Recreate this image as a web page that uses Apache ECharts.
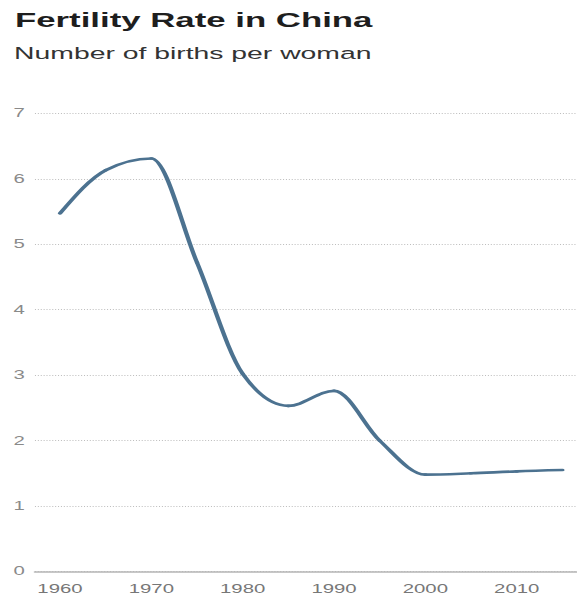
<!DOCTYPE html>
<html>
<head>
<meta charset="utf-8">
<script src="https://cdn.jsdelivr.net/npm/echarts@6.0.0/dist/echarts.min.js"></script>
<style>
  html, body { margin: 0; padding: 0; background: #fff; overflow: hidden; }
  #chart { width: 340px; height: 600px; transform: scaleX(1.697); transform-origin: 0 0; }
</style>
</head>
<body>
<div id="chart"></div>
<script>
// Data
const titleText = 'Fertility Rate in China';
const subtitleText = 'Number of births per woman';
const years = [1960, 1965, 1970, 1975, 1980, 1985, 1990, 1995, 2000, 2005, 2010, 2015];
const rates = [5.47, 6.13, 6.31, 4.72, 3.02, 2.53, 2.76, 2.00, 1.48, 1.50, 1.53, 1.55];
const xTickLabels = [1960, 1970, 1980, 1990, 2000, 2010];
const yTicks = [0, 1, 2, 3, 4, 5, 6, 7];

const seriesData = years.map((y, i) => [y, rates[i]]);

const chart = echarts.init(document.getElementById('chart'), null, { renderer: 'svg', width: 340, height: 600 });
const font = '"Liberation Sans", Arial, Helvetica, sans-serif';
const lineColor = '#4c7290';

// monotone cubic (Fritsch–Carlson style) tangents, computed on pixel coords from the axes
function tangents(pts) {
  const n = pts.length, m = new Array(n).fill(0), s = [];
  for (let i = 0; i < n - 1; i++) {
    const h = pts[i + 1][0] - pts[i][0];
    s.push(h ? (pts[i + 1][1] - pts[i][1]) / h : 0);
  }
  for (let i = 1; i < n - 1; i++) {
    const h0 = pts[i][0] - pts[i - 1][0], h1 = pts[i + 1][0] - pts[i][0];
    const s0 = s[i - 1], s1 = s[i];
    const p = (s0 * h1 + s1 * h0) / (h0 + h1);
    m[i] = (Math.sign(s0) + Math.sign(s1)) * Math.min(Math.abs(s0), Math.abs(s1), 0.5 * Math.abs(p)) || 0;
  }
  m[0] = (3 * s[0] - m[1]) / 2;
  m[n - 1] = (3 * s[n - 2] - m[n - 2]) / 2;
  return m;
}

function renderSegment(params, api) {
  const i = params.dataIndex;
  if (i >= seriesData.length - 1) return null;
  const pts = seriesData.map(d => api.coord(d));
  const m = tangents(pts);
  const [x0, y0] = pts[i], [x1, y1] = pts[i + 1];
  const dx = (x1 - x0) / 3;
  const d = 'M' + x0 + ' ' + y0 + ' C' + (x0 + dx) + ' ' + (y0 + dx * m[i]) + ' ' +
            (x1 - dx) + ' ' + (y1 - dx * m[i + 1]) + ' ' + x1 + ' ' + y1;
  return {
    type: 'path',
    shape: { pathData: d },
    style: { fill: 'none', stroke: lineColor, lineWidth: 2.6, lineCap: 'round', lineJoin: 'round' }
  };
}

chart.setOption({
  animation: false,
  backgroundColor: '#ffffff',
  graphic: [
    { type: 'text', x: 8.8, y: 20.3,
      style: { text: titleText, font: 'bold 20.5px ' + font, fill: '#1e1e1e', verticalAlign: 'middle' } },
    { type: 'text', x: 8.3, y: 53,
      style: { text: subtitleText, font: '16.7px ' + font, fill: '#333333', verticalAlign: 'middle' } }
  ],
  grid: { left: 20.6, right: 0, top: 113.3, bottom: 28.5, containLabel: false },
  xAxis: {
    type: 'value',
    min: 1957.26,
    max: 2016.6,
    axisLine: { show: true, lineStyle: { color: '#b5b5b5', width: 1.6 } },
    axisTick: { show: false },
    splitLine: { show: false },
    axisLabel: {
      customValues: xTickLabels,
      color: '#777777',
      fontSize: 12,
      fontFamily: font,
      margin: 12,
      formatter: v => String(v)
    }
  },
  yAxis: {
    type: 'value',
    min: yTicks[0],
    max: yTicks[yTicks.length - 1],
    interval: 1,
    axisLine: { show: false },
    axisTick: { show: false },
    axisLabel: { color: '#8a8a8a', fontSize: 12, fontFamily: font, margin: 6 },
    splitLine: { show: true, lineStyle: { color: '#bdbdbd', width: 1, type: [0.6, 1.1] } }
  },
  series: [{
    type: 'custom',
    name: 'Fertility rate',
    data: seriesData,
    encode: { x: 0, y: 1 },
    renderItem: renderSegment,
    clip: false,
    z: 3
  }]
});
</script>
</body>
</html>
